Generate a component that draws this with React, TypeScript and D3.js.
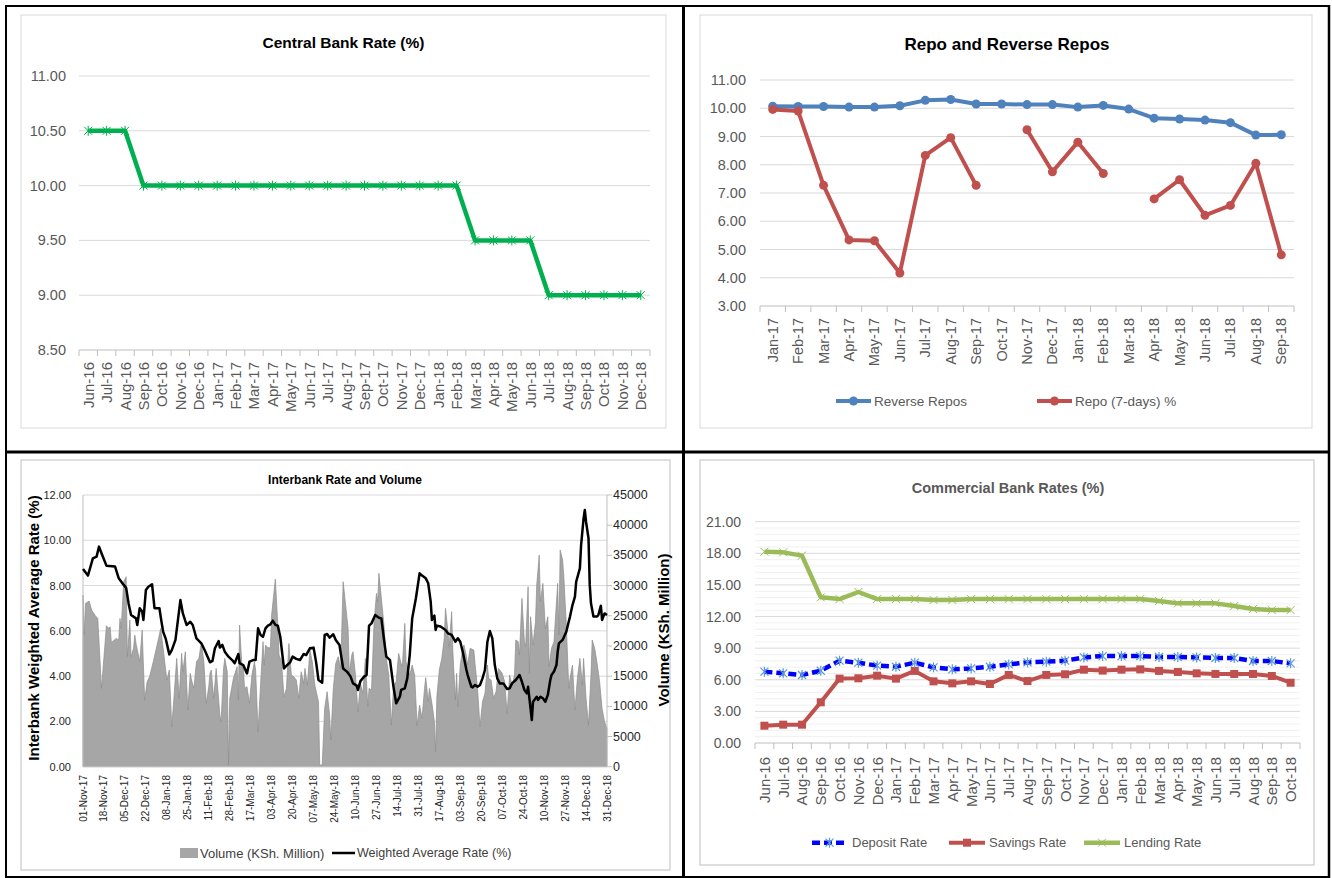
import React from 'react';
import * as d3 from 'd3';

// ---------------- DATA ----------------
const cbrMonths = ['Jun-16','Jul-16','Aug-16','Sep-16','Oct-16','Nov-16','Dec-16','Jan-17','Feb-17','Mar-17','Apr-17','May-17','Jun-17','Jul-17','Aug-17','Sep-17','Oct-17','Nov-17','Dec-17','Jan-18','Feb-18','Mar-18','Apr-18','May-18','Jun-18','Jul-18','Aug-18','Sep-18','Oct-18','Nov-18','Dec-18'];
const cbrRate = [10.5,10.5,10.5,10,10,10,10,10,10,10,10,10,10,10,10,10,10,10,10,10,10,9.5,9.5,9.5,9.5,9,9,9,9,9,9];
const cbrTicks = [8.5, 9, 9.5, 10, 10.5, 11];

const repoMonths = ['Jan-17','Feb-17','Mar-17','Apr-17','May-17','Jun-17','Jul-17','Aug-17','Sep-17','Oct-17','Nov-17','Dec-17','Jan-18','Feb-18','Mar-18','Apr-18','May-18','Jun-18','Jul-18','Aug-18','Sep-18'];
const reverseRepos = [10.07,10.06,10.06,10.04,10.04,10.09,10.28,10.31,10.15,10.15,10.13,10.13,10.04,10.1,9.97,9.65,9.62,9.58,9.49,9.05,9.06];
const repo7Days: (number | null)[] = [9.96,9.9,7.27,5.34,5.31,4.17,8.33,8.96,7.27,null,9.24,7.75,8.8,7.69,null,6.79,7.47,6.21,6.56,8.05,4.81];
const repoTicks = [3,4,5,6,7,8,9,10,11];

const ibTickLabels = ['01-Nov-17','18-Nov-17','05-Dec-17','22-Dec-17','08-Jan-18','25-Jan-18','11-Feb-18','28-Feb-18','17-Mar-18','03-Apr-18','20-Apr-18','07-May-18','24-May-18','10-Jun-18','27-Jun-18','14-Jul-18','31-Jul-18','17-Aug-18','03-Sep-18','20-Sep-18','07-Oct-18','24-Oct-18','10-Nov-18','27-Nov-18','14-Dec-18','31-Dec-18'];
const ibRateTicks = [0,2,4,6,8,10,12];
const ibVolTicks = [0,5000,10000,15000,20000,25000,30000,35000,40000,45000];
// day offsets from 01-Nov-17
const ibVolumeDays = [0,1,2,5,7,10,12,15,19,21,22,23,27,29,30,31,32,33,35,36,38,39,41,42,43,46,48,50,52,54,57,61,63,65,68,70,72,74,76,78,80,81,83,85,87,88,90,92,94,96,98,100,102,103,
104,106,108,111,112,114,115,117,118,119,122,125,126,127,129,130,131,133,135,137,139,140,142,144,146,147,148,150,152,153,156,158,159,161,163,165,167,169,171,173,175,177,179,180,182,184,186,188,191,192,194,196,198,200,201,203,205,207,209,211,
213,215,216,218,219,221,223,225,227,229,231,232,234,236,238,239,240,242,244,246,248,250,252,254,256,258,259,261,262,265,267,269,271,273,275,277,278,280,281,283,285,286,287,289,291,293,294,296,297,299,300,302,303,304,306,308,309,311,312,314,317,318,
320,322,324,326,328,329,331,333,335,337,338,340,342,344,346,348,350,351,353,354,356,358,359,361,362,363,365,367,368,370,371,373,375,377,378,380,382,383,385,386,387,389,390,392,394,395,397,399,401,403,405,406,408,410,412,413,415,417,419,421,423,425];
const ibVolume = [28430,21800,27050,27430,25940,25000,24560,12970,23350,22900,23180,20590,21250,20980,24560,22900,26770,30640,31460,18220,24290,18220,19600,21800,20420,17390,22630,11040,14080,14900,17390,20980,22900,19600,14350,16000,6620,12140,17940,11320,18770,15730,19040,9380,15460,14350,12970,17390,17940,20590,17390,10490,13250,15460,
16000,11320,16280,8560,7450,16280,17940,15730,280,11320,14630,16560,11040,23460,16280,16840,12970,13250,10490,15180,17390,16000,5800,13520,20700,16840,20150,19700,19700,25120,31080,23460,18490,17390,11590,12970,20420,15180,14900,14350,11320,15730,13800,16280,13520,19320,17390,13520,10760,280,280,9660,12420,8560,4420,12970,17110,18220,16280,30640,
26770,22900,15460,18490,19040,15180,9110,13800,12140,17940,9940,12970,12700,23460,28700,27320,32020,27880,23740,17940,15180,6900,13520,14080,18770,17110,16560,23740,17390,15180,16840,15180,6790,10210,8000,12970,14740,10760,12970,10490,7450,2480,11590,16000,17940,21250,26220,22360,19870,25670,19040,11040,15460,9940,16840,19600,20150,18220,16840,19600,19320,17000,
12970,6620,10760,12140,16840,14630,14350,11320,12420,16280,16000,15460,14080,8830,15180,13520,15180,20980,20700,18490,27880,20700,19870,29810,15460,24840,20150,24010,30080,35050,27320,30360,22900,24840,16560,19600,20700,24010,30360,21800,35880,34220,31460,23460,12970,14630,16840,9380,14630,17940,13520,17940,11320,6900,15180,20980,19600,17110,14080,9660,7450,6350];
const ibRateDays = [0,4,8,11,13,15,19,26,29,33,35,37,39,43,44,46,48,49,51,53,56,58,62,63,65,67,70,72,75,79,81,84,87,89,92,96,99,103,
105,107,110,111,113,115,118,121,123,126,127,130,133,135,138,140,142,144,146,148,150,152,154,156,158,160,163,165,168,170,173,176,179,181,184,187,189,191,194,196,198,200,203,205,208,
211,214,217,219,222,223,225,228,230,232,234,237,240,242,244,246,249,252,254,257,258,261,263,265,267,270,273,275,278,280,282,283,285,286,287,290,294,296,299,302,304,306,308,311,312,315,
316,318,320,322,324,326,328,330,332,334,336,338,341,344,346,348,351,354,356,358,360,361,363,364,365,368,369,371,373,375,377,379,380,382,384,385,386,389,392,393,395,397,399,400,403,404,406,407,408,410,411,412,414,417,418,420,421,423,425];
const ibRate = [8.73,8.44,9.2,9.28,9.72,9.43,8.88,8.84,8.32,8.03,7.9,7.2,6.7,6.55,6.26,7.0,6.85,6.48,7.8,7.95,8.06,7.0,7.0,6.63,5.96,5.67,4.96,5.15,5.6,7.36,6.77,6.26,6.4,6.26,5.67,5.45,5.11,4.61,
4.67,5.23,5.55,5.26,5.38,5.08,4.86,4.71,4.57,4.98,4.57,4.49,4.12,4.64,4.71,4.71,6.11,5.82,5.74,6.11,6.23,6.29,6.45,6.26,6.23,5.74,4.34,4.46,4.61,4.86,4.76,4.71,4.98,4.93,5.23,5.26,4.64,3.83,3.71,5.82,5.86,5.7,5.85,5.6,5.38,
4.34,4.2,3.98,3.68,3.58,3.39,3.78,3.98,4.05,6.23,6.33,6.7,6.58,6.55,5.67,4.86,4.71,3.46,2.8,3.09,3.39,3.46,3.9,4.93,6.55,7.44,8.54,8.44,8.32,8.1,7.29,6.48,6.67,6.04,6.23,6.19,6.04,5.89,5.82,5.52,5.67,5.52,5.08,4.27,4.05,3.53,
3.5,3.61,3.53,3.61,3.9,4.27,5.52,5.99,5.67,4.49,3.9,3.68,3.68,3.43,3.46,3.68,3.83,4.05,3.75,3.39,3.24,3.53,2.58,2.06,2.87,3.09,2.95,3.09,3.02,2.87,3.17,3.83,4.05,4.2,4.49,5.08,5.45,5.6,5.96,6.19,6.63,7.14,7.51,8.17,8.76,9.79,10.97,11.34,10.82,10.09,8.03,7.22,6.63,6.63,6.7,7.11,6.48,6.77,6.7];

const cbMonths = ['Jun-16','Jul-16','Aug-16','Sep-16','Oct-16','Nov-16','Dec-16','Jan-17','Feb-17','Mar-17','Apr-17','May-17','Jun-17','Jul-17','Aug-17','Sep-17','Oct-17','Nov-17','Dec-17','Jan-18','Feb-18','Mar-18','Apr-18','May-18','Jun-18','Jul-18','Aug-18','Sep-18','Oct-18'];
const depositRate = [6.77,6.61,6.45,6.86,7.81,7.62,7.34,7.24,7.62,7.18,6.99,7.08,7.24,7.46,7.65,7.72,7.81,8.12,8.25,8.25,8.25,8.16,8.16,8.12,8.07,8.07,7.78,7.78,7.56];
const savingsRate = [1.64,1.74,1.74,3.86,6.11,6.14,6.39,6.11,6.84,5.85,5.66,5.85,5.6,6.46,5.88,6.46,6.52,6.96,6.87,6.96,6.99,6.84,6.74,6.61,6.55,6.55,6.55,6.36,5.72];
const lendingRate = [18.15,18.09,17.78,13.82,13.66,14.33,13.66,13.66,13.66,13.57,13.57,13.66,13.66,13.66,13.66,13.66,13.66,13.66,13.66,13.66,13.66,13.47,13.25,13.25,13.25,13.0,12.71,12.61,12.61];
const cbMajorTicks = [0,3,6,9,12,15,18,21];

// ---------------- HELPERS ----------------
const FONT = "'Liberation Sans', Arial, Helvetica, sans-serif";
const TXT = '#595959';
const GRID = '#d9d9d9';
const AXIS = '#bfbfbf';

function RotLabel({ x, y, text, size, fill }: any) {
  return (
    <text transform={`translate(${x},${y}) rotate(-90)`} textAnchor="end" dominantBaseline="central"
      fontSize={size} fill={fill} fontFamily={FONT}>{text}</text>
  );
}

function Star({ x, y, r, stroke, sw = 1 }: any) {
  const k = r * 0.8;
  return (
    <g stroke={stroke} strokeWidth={sw}>
      <line x1={x} y1={y - r} x2={x} y2={y + r} />
      <line x1={x - k} y1={y - k} x2={x + k} y2={y + k} />
      <line x1={x - k} y1={y + k} x2={x + k} y2={y - k} />
    </g>
  );
}

function XMark({ x, y, r, stroke, sw = 1 }: any) {
  return (
    <g stroke={stroke} strokeWidth={sw}>
      <line x1={x - r} y1={y - r} x2={x + r} y2={y + r} />
      <line x1={x - r} y1={y + r} x2={x + r} y2={y - r} />
    </g>
  );
}

// ---------------- CHARTS ----------------
function CentralBankChart() {
  const x = d3.scaleBand<string>().domain(cbrMonths).range([79, 650]);
  const y = d3.scaleLinear().domain([8.5, 11]).range([350, 76]);
  const cx = (i: number) => (x(cbrMonths[i]) as number) + x.bandwidth() / 2;
  const line = d3.line<number>().x((_, i) => cx(i)).y(d => y(d));
  return (
    <g>
      <rect x={21} y={15} width={645} height={413} fill="#fff" stroke={GRID} />
      <text x={343.5} y={42} textAnchor="middle" dominantBaseline="central" fontWeight="bold" fontSize={15.5} fill="#000" fontFamily={FONT}>Central Bank Rate (%)</text>
      {cbrTicks.map(t => (
        <g key={t}>
          {t > 8.5 && <line x1={79} x2={650} y1={y(t)} y2={y(t)} stroke={GRID} />}
          <text x={66} y={y(t)} textAnchor="end" dominantBaseline="central" fontSize={14.5} fill={TXT} fontFamily={FONT}>{t.toFixed(2)}</text>
        </g>
      ))}
      <line x1={79} x2={650} y1={y(8.5)} y2={y(8.5)} stroke={AXIS} />
      {d3.range(cbrMonths.length + 1).map(i => (
        <line key={i} x1={79 + i * x.step()} x2={79 + i * x.step()} y1={y(8.5)} y2={y(8.5) + 6} stroke={AXIS} />
      ))}
      <path d={line(cbrRate) as string} fill="none" stroke="#00B050" strokeWidth={4.5} strokeLinejoin="round" />
      {cbrRate.map((v, i) => <Star key={i} x={cx(i)} y={y(v)} r={5} stroke="#00B050" sw={1} />)}
      {cbrMonths.map((m, i) => <RotLabel key={m} x={cx(i)} y={362} text={m} size={15} fill={TXT} />)}
    </g>
  );
}

function RepoChart() {
  const x = d3.scaleBand<string>().domain(repoMonths).range([760, 1294]);
  const y = d3.scaleLinear().domain([3, 11]).range([306, 80]);
  const cx = (i: number) => (x(repoMonths[i]) as number) + x.bandwidth() / 2;
  const line = d3.line<number | null>().defined(d => d != null).x((_, i) => cx(i)).y(d => y(d as number));
  const blue = '#4F81BD';
  const red = '#C0504D';
  return (
    <g>
      <rect x={700} y={15} width={612} height={413} fill="#fff" stroke={GRID} />
      <text x={1007} y={44} textAnchor="middle" dominantBaseline="central" fontWeight="bold" fontSize={17} fill="#000" fontFamily={FONT}>Repo and Reverse Repos</text>
      {repoTicks.map(t => (
        <g key={t}>
          {t > 3 && <line x1={760} x2={1294} y1={y(t)} y2={y(t)} stroke={GRID} />}
          <text x={746} y={y(t)} textAnchor="end" dominantBaseline="central" fontSize={14.5} fill={TXT} fontFamily={FONT}>{t.toFixed(2)}</text>
        </g>
      ))}
      <line x1={760} x2={1294} y1={y(3)} y2={y(3)} stroke={AXIS} />
      {d3.range(repoMonths.length + 1).map(i => (
        <line key={i} x1={760 + i * x.step()} x2={760 + i * x.step()} y1={y(3)} y2={y(3) + 6} stroke={AXIS} />
      ))}
      <path d={line(reverseRepos) as string} fill="none" stroke={blue} strokeWidth={4} strokeLinejoin="round" />
      {reverseRepos.map((v, i) => <circle key={i} cx={cx(i)} cy={y(v)} r={4.5} fill={blue} />)}
      <path d={line(repo7Days) as string} fill="none" stroke={red} strokeWidth={4} strokeLinejoin="round" />
      {repo7Days.map((v, i) => v == null ? null : <circle key={i} cx={cx(i)} cy={y(v)} r={4.5} fill={red} />)}
      {repoMonths.map((m, i) => <RotLabel key={m} x={cx(i)} y={318} text={m} size={14.5} fill={TXT} />)}
      <line x1={836} x2={871} y1={401} y2={401} stroke={blue} strokeWidth={4} />
      <circle cx={853.5} cy={401} r={4.5} fill={blue} />
      <text x={874} y={401} dominantBaseline="central" fontSize={13.5} fill={TXT} fontFamily={FONT}>Reverse Repos</text>
      <line x1={1037} x2={1072} y1={401} y2={401} stroke={red} strokeWidth={4} />
      <circle cx={1054.5} cy={401} r={4.5} fill={red} />
      <text x={1075} y={401} dominantBaseline="central" fontSize={13.5} fill={TXT} fontFamily={FONT}>Repo (7-days) %</text>
    </g>
  );
}

function InterbankChart() {
  const start = new Date(2017, 10, 1);
  const parse = d3.timeParse('%d-%b-%y');
  const x = d3.scaleTime().domain([start, d3.timeDay.offset(start, 425)]).range([83, 607]);
  const yL = d3.scaleLinear().domain([0, 12]).range([766.7, 495]);
  const yR = d3.scaleLinear().domain([0, 45000]).range([766.7, 495]);
  const vol = ibVolumeDays.map((d, i) => ({ date: d3.timeDay.offset(start, d), v: ibVolume[i] }));
  const rate = ibRateDays.map((d, i) => ({ date: d3.timeDay.offset(start, d), v: ibRate[i] }));
  const area = d3.area<any>().x(d => x(d.date)).y0(yR(0)).y1(d => yR(d.v));
  const line = d3.line<any>().x(d => x(d.date)).y(d => yL(d.v));
  const dark = '#262626';
  return (
    <g>
      <rect x={21} y={460} width={649} height={410} fill="#fff" stroke={AXIS} />
      <text x={345} y={480} textAnchor="middle" dominantBaseline="central" fontWeight="bold" fontSize={12} fill="#000" fontFamily={FONT}>Interbank Rate and Volume</text>
      {ibRateTicks.map(t => (
        <g key={t}>
          {t > 0 && <line x1={83} x2={607} y1={yL(t)} y2={yL(t)} stroke={GRID} />}
          <text x={71} y={yL(t)} textAnchor="end" dominantBaseline="central" fontSize={11} fill={dark} fontFamily={FONT}>{t.toFixed(2)}</text>
        </g>
      ))}
      <path d={area(vol) as string} fill="#A6A6A6" stroke="#8c8c8c" strokeWidth={0.7} />
      <line x1={83} x2={83} y1={495} y2={766.7} stroke={AXIS} />
      <line x1={83} x2={607} y1={766.7} y2={766.7} stroke={AXIS} />
      <line x1={607} x2={607} y1={495} y2={766.7} stroke={AXIS} />
      {ibVolTicks.map(t => (
        <g key={t}>
          <line x1={607} x2={612} y1={yR(t)} y2={yR(t)} stroke={AXIS} />
          <text x={613} y={yR(t)} dominantBaseline="central" fontSize={12.5} fill={dark} fontFamily={FONT}>{t}</text>
        </g>
      ))}
      <path d={line(rate) as string} fill="none" stroke="#000" strokeWidth={2.5} strokeLinejoin="round" />
      {ibTickLabels.map(l => <RotLabel key={l} x={x(parse(l) as Date)} y={775} text={l} size={10} fill={dark} />)}
      <text transform="translate(33,628) rotate(-90)" textAnchor="middle" dominantBaseline="central" fontWeight="bold" fontSize={15} fill="#000" fontFamily={FONT}>Interbank Weighted Average Rate (%)</text>
      <text transform="translate(663,630) rotate(-90)" textAnchor="middle" dominantBaseline="central" fontWeight="bold" fontSize={15} fill="#000" fontFamily={FONT}>Volume (KSh. Million)</text>
      <rect x={180} y={848} width={18} height={10} fill="#A6A6A6" />
      <text x={200} y={853} dominantBaseline="central" fontSize={13} fill="#404040" fontFamily={FONT}>Volume (KSh. Million)</text>
      <line x1={332} x2={355} y1={853} y2={853} stroke="#000" strokeWidth={2.5} />
      <text x={357} y={853} dominantBaseline="central" fontSize={12.5} fill="#404040" fontFamily={FONT}>Weighted Average Rate (%)</text>
    </g>
  );
}

function CommercialChart() {
  const x = d3.scaleBand<string>().domain(cbMonths).range([755, 1300]);
  const y = d3.scaleLinear().domain([0, 21]).range([743, 521.7]);
  const cx = (i: number) => (x(cbMonths[i]) as number) + x.bandwidth() / 2;
  const line = d3.line<number>().x((_, i) => cx(i)).y(d => y(d));
  const minor = d3.range(0, 21.001, 0.6).filter(v => Math.abs(v / 3 - Math.round(v / 3)) > 1e-6);
  const dep = '#0000FF';
  const sav = '#C0504D';
  const len = '#9BBB59';
  return (
    <g>
      <rect x={700} y={460} width={614} height={405} fill="#fff" stroke={AXIS} />
      <text x={1008} y={488} textAnchor="middle" dominantBaseline="central" fontWeight="bold" fontSize={14.5} fill={TXT} fontFamily={FONT}>Commercial Bank Rates (%)</text>
      {minor.map(t => <line key={'m' + t} x1={755} x2={1300} y1={y(t)} y2={y(t)} stroke="#f0f0f0" />)}
      {cbMajorTicks.map(t => (
        <g key={t}>
          {t > 0 && <line x1={755} x2={1300} y1={y(t)} y2={y(t)} stroke={GRID} />}
          <text x={741} y={y(t)} textAnchor="end" dominantBaseline="central" fontSize={14} fill={TXT} fontFamily={FONT}>{t.toFixed(2)}</text>
        </g>
      ))}
      <line x1={755} x2={1300} y1={y(0)} y2={y(0)} stroke={AXIS} />
      {d3.range(cbMonths.length + 1).map(i => (
        <line key={i} x1={755 + i * x.step()} x2={755 + i * x.step()} y1={y(0)} y2={y(0) + 6} stroke={AXIS} />
      ))}
      <path d={line(lendingRate) as string} fill="none" stroke={len} strokeWidth={4.5} strokeLinejoin="round" />
      {lendingRate.map((v, i) => <XMark key={i} x={cx(i)} y={y(v)} r={4} stroke={len} sw={1} />)}
      <path d={line(savingsRate) as string} fill="none" stroke={sav} strokeWidth={4} strokeLinejoin="round" />
      {savingsRate.map((v, i) => <rect key={i} x={cx(i) - 4} y={y(v) - 4} width={8} height={8} fill={sav} />)}
      <path d={line(depositRate) as string} fill="none" stroke={dep} strokeWidth={4.5} strokeDasharray="8 4" />
      {depositRate.map((v, i) => <Star key={i} x={cx(i)} y={y(v)} r={5} stroke="#5B9BD5" sw={1.2} />)}
      {cbMonths.map((m, i) => <RotLabel key={m} x={cx(i)} y={757} text={m} size={15} fill={TXT} />)}
      <line x1={812} x2={847} y1={842.7} y2={842.7} stroke={dep} strokeWidth={4.5} strokeDasharray="8 4" />
      <Star x={829.5} y={842.7} r={5} stroke="#5B9BD5" sw={1.2} />
      <text x={852} y={842.7} dominantBaseline="central" fontSize={13} fill={TXT} fontFamily={FONT}>Deposit Rate</text>
      <line x1={949} x2={985} y1={842.7} y2={842.7} stroke={sav} strokeWidth={4} />
      <rect x={963} y={838.7} width={8} height={8} fill={sav} />
      <text x={989} y={842.7} dominantBaseline="central" fontSize={13} fill={TXT} fontFamily={FONT}>Savings Rate</text>
      <line x1={1084} x2={1120} y1={842.7} y2={842.7} stroke={len} strokeWidth={4.5} />
      <XMark x={1102} y={842.7} r={4} stroke={len} sw={1} />
      <text x={1124} y={842.7} dominantBaseline="central" fontSize={13} fill={TXT} fontFamily={FONT}>Lending Rate</text>
    </g>
  );
}

export default function App() {
  return (
    <svg width={1332} height={878} style={{ position: 'absolute', left: 0, top: 0, background: '#fff' }} fontFamily={FONT}>
      <rect x={0} y={0} width={1332} height={878} fill="#fff" />
      <CentralBankChart />
      <RepoChart />
      <InterbankChart />
      <CommercialChart />
      <g stroke="#000" fill="none">
        <line x1={6} x2={1330} y1={6} y2={6} strokeWidth={2} />
        <line x1={6} x2={6} y1={5} y2={878} strokeWidth={2} />
        <line x1={1329} x2={1329} y1={5} y2={878} strokeWidth={2.5} />
        <line x1={683.5} x2={683.5} y1={5} y2={878} strokeWidth={3} />
        <line x1={5} x2={1330} y1={452} y2={452} strokeWidth={3} />
        <line x1={5} x2={1330} y1={877} y2={877} strokeWidth={2} />
      </g>
    </svg>
  );
}
